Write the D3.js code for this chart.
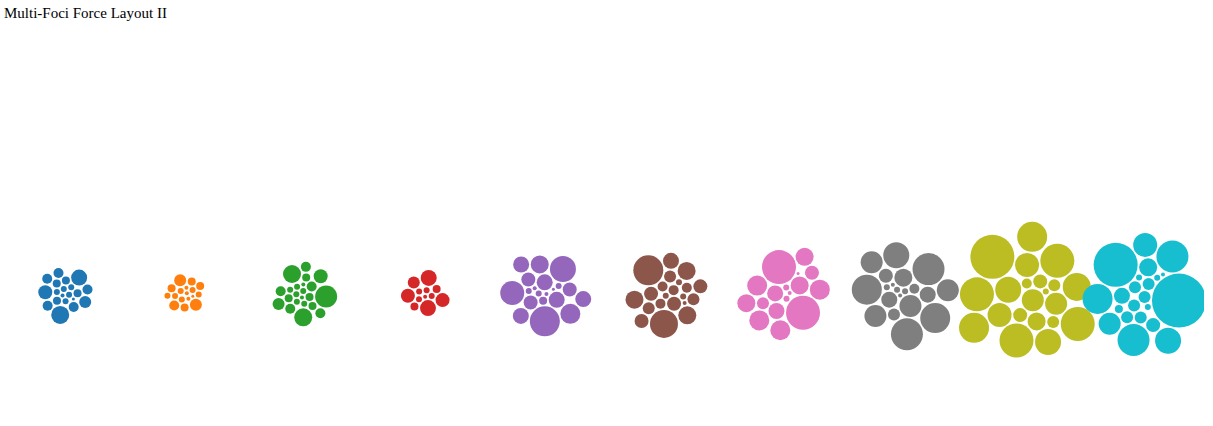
<!DOCTYPE html>
<html>
<head>
<meta charset="utf-8">
<script src="https://cdn.jsdelivr.net/npm/d3@7"></script>
<style>
  body { margin: 0; background: #fff; }
  #title { position: absolute; left: 4px; top: 5px; font-family: "Liberation Serif", "Times New Roman", serif; font-size: 15px; color: #000; }
  svg { position: absolute; left: 4px; top: 0; overflow: hidden; }
</style>
</head>
<body>
<div id="title">Multi-Foci Force Layout II</div>
<script>
const title = "Multi-Foci Force Layout II";
const clusters = [0, 1, 2, 3, 4, 5, 6, 7, 8, 9];
const blueRadii   = [9, 8, 7, 6, 5, 5, 5, 5, 5, 4, 4, 4, 4, 3, 3, 3, 3, 3, 2, 1.5];
const orangeRadii = [6, 6, 5, 4, 4, 4, 4, 3, 3, 3, 3, 3, 3, 2, 2, 2, 1.5];
const greenRadii  = [11, 9, 9, 7, 6, 5, 5, 5, 5, 5, 4, 4, 4, 4, 3, 3, 3, 3, 3, 3, 2, 2];
const redRadii    = [8, 8, 7, 7, 6, 4, 4, 3, 3, 3, 3, 2];
const purpleRadii = [15, 13, 12, 10, 9, 8, 8, 8, 8, 8, 7, 7, 7, 4, 3, 3, 3, 2, 2, 1.5];
const brownRadii  = [15, 14, 9, 9, 9, 8, 7, 7, 7, 7, 6, 6, 6, 5, 5, 5, 5, 3, 3, 3, 2];
const pinkRadii   = [17, 17, 10, 10, 10, 10, 9, 9, 9, 8, 8, 7, 6, 3, 3, 2, 1.5];
const grayRadii   = [16, 16, 15, 15, 13, 11, 11, 11, 11, 9, 8, 8, 7, 6, 5, 3, 3, 3, 2, 2];
const oliveRadii  = [22, 17, 17, 17, 17, 15, 15, 14, 13, 13, 12, 12, 11, 11, 9, 7, 7, 6, 6, 5, 3];
const cyanRadii   = [27, 22, 16, 16, 15, 13, 12, 11, 9, 8, 7, 6, 6, 6, 6, 6, 6, 4, 3, 3, 3, 2];
const radiiByCluster = [blueRadii, orangeRadii, greenRadii, redRadii, purpleRadii,
                        brownRadii, pinkRadii, grayRadii, oliveRadii, cyanRadii];

const width = 1200, height = 426, centerY = 294;
const svg = d3.select("body").append("svg").attr("width", width).attr("height", height);

const x = d3.scalePoint().domain(clusters).range([61, 1141]);
const color = d3.scaleOrdinal().domain(clusters).range(d3.schemeCategory10);

clusters.forEach(c => {
  const nodes = radiiByCluster[c].slice().sort((a, b) => a - b).map(r => ({ r, cluster: c }));
  const sim = d3.forceSimulation(nodes)
    .force("x", d3.forceX(0).strength(0.12))
    .force("y", d3.forceY(0).strength(0.12))
    .force("collide", d3.forceCollide(d => d.r + 0.8).iterations(4))
    .stop();
  for (let i = 0; i < 400; i++) sim.tick();

  svg.append("g")
    .attr("transform", `translate(${x(c)},${centerY})`)
    .selectAll("circle")
    .data(nodes)
    .join("circle")
    .attr("cx", d => d.x)
    .attr("cy", d => d.y)
    .attr("r", d => d.r)
    .attr("fill", color(c));
});
</script>
</body>
</html>
